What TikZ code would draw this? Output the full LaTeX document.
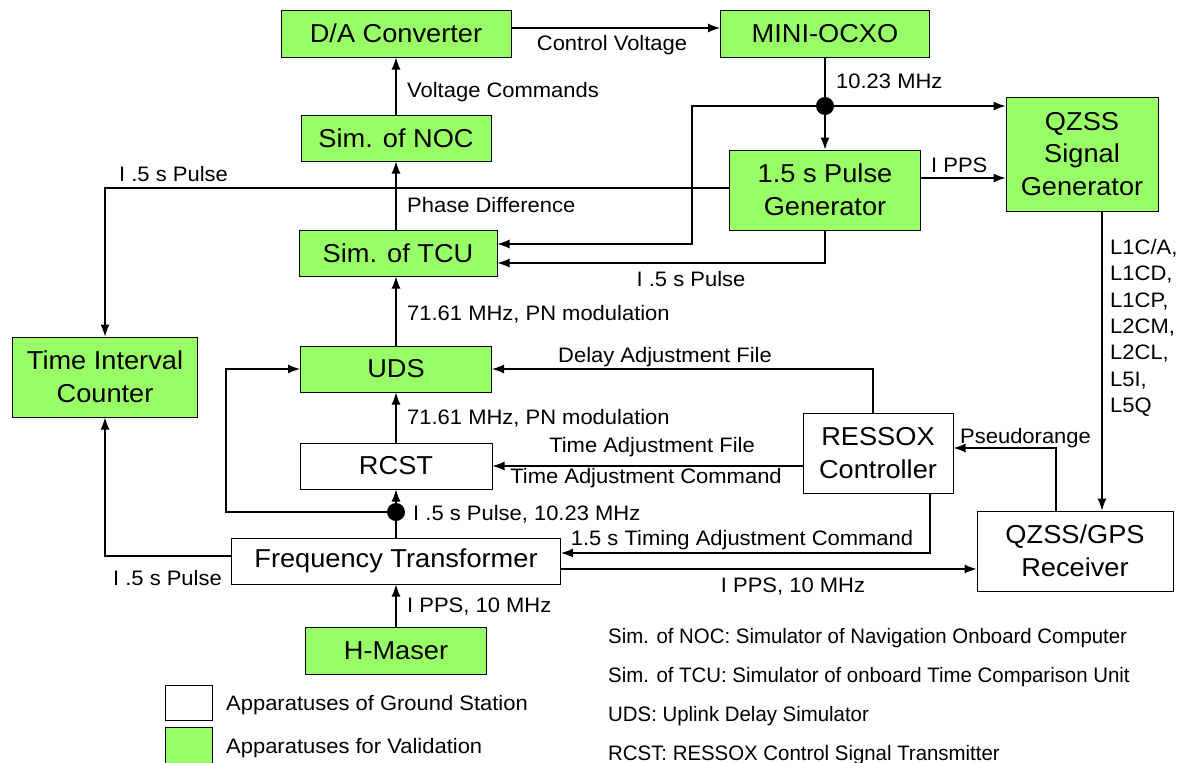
\documentclass[tikz,border=0pt]{standalone}
\usepackage{fontspec}
\setmainfont{Liberation Sans}[FakeStretch=1.05]
\newfontfamily\notefamily{Liberation Sans}[FakeStretch=0.975]
\usetikzlibrary{arrows,arrows.meta,shapes}
\definecolor{valgreen}{RGB}{153,255,102}
\newcommand{\boxfont}{\fontsize{26}{33}\selectfont}
\newcommand{\lblfont}{\fontsize{21}{26.5}\selectfont}
\newcommand{\notefont}{\notefamily\fontsize{21}{26.5}\selectfont}
\tikzset{
  valbox/.style={draw,line width=1bp,fill=valgreen,inner sep=0pt,align=center,font=\boxfont},
  gndbox/.style={valbox,fill=white},
  junction/.style={circle,fill=black,inner sep=0pt,minimum size=18bp},
  lbl/.style={inner sep=0pt,font=\lblfont},
  note/.style={inner sep=0pt,font=\notefont,anchor=base west},
}

\begin{document}
\begin{tikzpicture}[>={Latex[length=12bp,width=9bp]}]
\useasboundingbox (0bp,0bp) rectangle (1178bp,-763bp);

\node (DAC) at (396bp,-33.5bp)[valbox,minimum width=230bp,minimum height=47bp] {D/A Converter};
\node (OCXO) at (825bp,-33.5bp)[valbox,minimum width=209bp,minimum height=47bp] {MINI-OCXO};
\node (NOC) at (396bp,-138bp)[valbox,minimum width=190bp,minimum height=46bp] {Sim. of NOC};
\node (PG) at (825bp,-190bp)[valbox,minimum width=191bp,minimum height=80bp] {1.5 s Pulse\\Generator};
\node (QSG) at (1082bp,-154bp)[valbox,minimum width=152bp,minimum height=114bp] {QZSS\\Signal\\Generator};
\node (TCU) at (398bp,-253bp)[valbox,minimum width=198bp,minimum height=46bp] {Sim. of TCU};
\node (TIC) at (105bp,-377bp)[valbox,minimum width=185bp,minimum height=80bp] {Time Interval\\Counter};
\node (UDS) at (396bp,-369bp)[valbox,minimum width=191bp,minimum height=46bp] {UDS};
\node (RCST) at (396bp,-466bp)[gndbox,minimum width=192bp,minimum height=46bp] {RCST};
\node (RES) at (878bp,-453bp)[gndbox,minimum width=150bp,minimum height=80bp] {RESSOX\\Controller};
\node (RCV) at (1075bp,-551bp)[gndbox,minimum width=196bp,minimum height=80bp] {QZSS/GPS\\Receiver};
\node (FT) at (396bp,-561bp)[gndbox,minimum width=329bp,minimum height=46bp] {Frequency Transformer};
\node (HM) at (396bp,-650.5bp)[valbox,minimum width=181bp,minimum height=47bp] {H-Maser};

\node (J1) at (825bp,-106bp)[junction] {};
\node (J2) at (396bp,-512bp)[junction] {};
\coordinate (c1) at (692bp,-244bp);
\coordinate (c2) at (226bp,-512bp);

\draw [->,line width=1.2bp] ([yshift=5.5bp]DAC.east) -- ([yshift=5.5bp]OCXO.west);
\draw [->,line width=1.2bp] (NOC) -- (DAC);
\draw [line width=1.2bp] (OCXO) -- (J1);
\draw [->,line width=1.2bp] (J1) -- (J1 -| QSG.west);
\draw [->,line width=1.2bp] (J1) -- (PG);
\draw [->,line width=1.2bp] (J1) -| (c1) -- (c1 -| TCU.east);
\draw [->,line width=1.2bp] (PG) |- ([yshift=-10bp]TCU.east);
\draw [->,line width=1.2bp] ([yshift=2bp]PG.west) -| (TIC);
\draw [->,line width=1.2bp] ([yshift=12bp]PG.east) -- ([yshift=12bp]PG.east -| QSG.west);
\draw [->,line width=1.2bp] (TCU.north -| NOC) -- (NOC);
\draw [->,line width=1.2bp] (UDS) -- (UDS |- TCU.south);
\draw [->,line width=1.2bp] (RCST) -- (UDS);
\draw [line width=1.2bp] (FT) -- (J2);
\draw [->,line width=1.2bp] (J2) -- (RCST);
\draw [->,line width=1.2bp] (J2) -- (c2) |- (UDS.west);
\draw [->,line width=1.2bp] ([yshift=5bp]FT.west) -| (TIC);
\draw [->,line width=1.2bp] ([xshift=-5bp]RES.north) |- (UDS.east);
\draw [->,line width=1.2bp] (RES.west |- RCST) -- (RCST.east);
\draw [->,line width=1.2bp] ([xshift=52bp]RES.south) |- ([yshift=8bp]FT.east);
\draw [->,line width=1.2bp] ([yshift=-8bp]FT.east) -- ([yshift=-8bp]FT.east -| RCV.west);
\draw [->,line width=1.2bp] ([xshift=-19bp]RCV.north) |- ([yshift=5bp]RES.east);
\draw [->,line width=1.2bp] ([xshift=20bp]QSG.south) -- ([xshift=20bp]QSG.south |- RCV.north);
\draw [->,line width=1.2bp] (HM) -- (FT);

% connector labels
\node (LCV) at (612bp,-50bp)[lbl,anchor=base] {Control Voltage};
\node (LVC) at (407bp,-97bp)[lbl,anchor=base west] {Voltage Commands};
\node (LOSC) at (836bp,-88bp)[lbl,anchor=base west] {10.23 MHz};
\node (LPPS) at (931bp,-172bp)[lbl,anchor=base west] {I PPS};
\node (LP1) at (119bp,-181bp)[lbl,anchor=base west] {I .5 s Pulse};
\node (LPD) at (407bp,-212bp)[lbl,anchor=base west] {Phase Difference};
\node (LP2) at (691bp,-286bp)[lbl,anchor=base] {I .5 s Pulse};
\node (LPN1) at (407bp,-320bp)[lbl,anchor=base west] {71.61 MHz, PN modulation};
\node (LDAF) at (665bp,-362bp)[lbl,anchor=base] {Delay Adjustment File};
\node (LPN2) at (407bp,-424bp)[lbl,anchor=base west] {71.61 MHz, PN modulation};
\node (LTAF) at (652bp,-452bp)[lbl,anchor=base] {Time Adjustment File};
\node (LTAC) at (646bp,-483bp)[lbl,anchor=base] {Time Adjustment Command};
\node (LPF) at (413bp,-520bp)[lbl,anchor=base west] {I .5 s Pulse, 10.23 MHz};
\node (LTIM) at (742bp,-545bp)[lbl,anchor=base] {1.5 s Timing Adjustment Command};
\node (LP3) at (222bp,-585bp)[lbl,anchor=base east] {I .5 s Pulse};
\node (LPPS2) at (793bp,-592bp)[lbl,anchor=base] {I PPS, 10 MHz};
\node (LPPS3) at (407bp,-612bp)[lbl,anchor=base west] {I PPS, 10 MHz};
\node (LPR) at (960bp,-443bp)[lbl,anchor=base west] {Pseudorange};
\node (LSIG) at (1110bp,-239bp)[lbl,anchor=north west,align=left] {L1C/A,\\L1CD,\\L1CP,\\L2CM,\\L2CL,\\L5I,\\L5Q};

% legend
\node (KGND) at (188.5bp,-702.5bp)[gndbox,minimum width=47bp,minimum height=35bp] {};
\node (KVAL) at (188.5bp,-749bp)[valbox,minimum width=47bp,minimum height=44bp] {};
\node (TGND) at (226bp,-710bp)[lbl,anchor=base west] {Apparatuses of Ground Station};
\node (TVAL) at (226bp,-753bp)[lbl,anchor=base west] {Apparatuses for Validation};

% abbreviations
\node (ANOC) at (608bp,-643bp)[note] {Sim. of NOC: Simulator of Navigation Onboard Computer};
\node (ATCU) at (608bp,-682bp)[note] {Sim. of TCU: Simulator of onboard Time Comparison Unit};
\node (AUDS) at (608bp,-721bp)[note] {UDS: Uplink Delay Simulator};
\node (ARCST) at (608bp,-760bp)[note] {RCST: RESSOX Control Signal Transmitter};
\end{tikzpicture}
\end{document}
